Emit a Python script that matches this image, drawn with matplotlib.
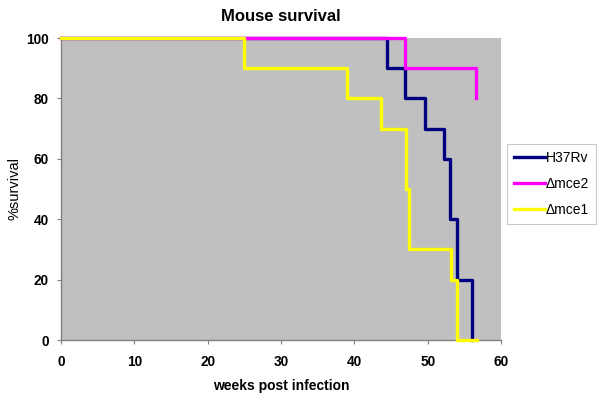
import matplotlib
matplotlib.use("Agg")
import matplotlib.pyplot as plt

plt.rcParams['font.family'] = ['Liberation Sans', 'DejaVu Sans']

# Kaplan-Meier style step data (weeks, % survival)
h37rv_weeks = [0, 44.4, 46.9, 49.6, 52.2, 53.0, 54.0, 56.1]
h37rv_surv = [100, 90, 80, 70, 60, 40, 20, 0]

mce2_weeks = [0, 46.9, 56.6]
mce2_surv = [100, 90, 80]

mce1_weeks = [0, 25.0, 39.0, 43.7, 47.0, 47.5, 53.2, 54.0, 56.7]
mce1_surv = [100, 90, 80, 70, 50, 30, 20, 0, 0]

x_ticks = [0, 10, 20, 30, 40, 50, 60]
y_ticks = [0, 20, 40, 60, 80, 100]

fig = plt.figure(figsize=(6, 4.03), dpi=100)
ax = fig.add_axes([61 / 600, 63 / 403, 440 / 600, 302 / 403])
ax.set_facecolor('#C0C0C0')

ax.step(h37rv_weeks, h37rv_surv, where='post', color='#000080', lw=2.4,
        label='H37Rv', zorder=3, clip_on=False)
ax.step(mce2_weeks, mce2_surv, where='post', color='#FF00FF', lw=2.4,
        label='\u0394mce2', zorder=4, clip_on=False)
ax.step(mce1_weeks, mce1_surv, where='post', color='#FFFF00', lw=2.4,
        label='\u0394mce1', zorder=5, clip_on=False)

ax.set_xlim(0, 60)
ax.set_ylim(0, 100)
ax.set_xticks(x_ticks)
ax.set_yticks(y_ticks)
for lab in ax.get_xticklabels() + ax.get_yticklabels():
    lab.set_fontweight('bold')
    lab.set_fontsize(9.8)
ax.tick_params(axis='both', color='#808080', length=3, width=0.8)
ax.tick_params(axis='x', pad=8)
ax.tick_params(axis='y', pad=6)

for side in ['top', 'right']:
    ax.spines[side].set_visible(False)
for side in ['left', 'bottom']:
    ax.spines[side].set_color('#808080')
    ax.spines[side].set_linewidth(1)

ax.set_title('Mouse survival', fontsize=12, fontweight='bold', pad=12)
ax.set_xlabel('weeks post infection', fontsize=10, fontweight='bold', labelpad=7)
ax.set_ylabel('%survival', fontsize=10.5, labelpad=3)

leg = ax.legend(loc='upper left', bbox_to_anchor=(507 / 600, 1 - 144 / 403),
                bbox_transform=fig.transFigure, fontsize=10, frameon=True,
                fancybox=False, handlelength=2.2, handletextpad=0.1,
                labelspacing=0.85, borderpad=0.5, borderaxespad=0)
leg.get_frame().set_edgecolor('#BBBBBB')
leg.get_frame().set_linewidth(0.8)
for line in leg.get_lines():
    line.set_linewidth(2.4)

fig.savefig('out.png', dpi=100)
